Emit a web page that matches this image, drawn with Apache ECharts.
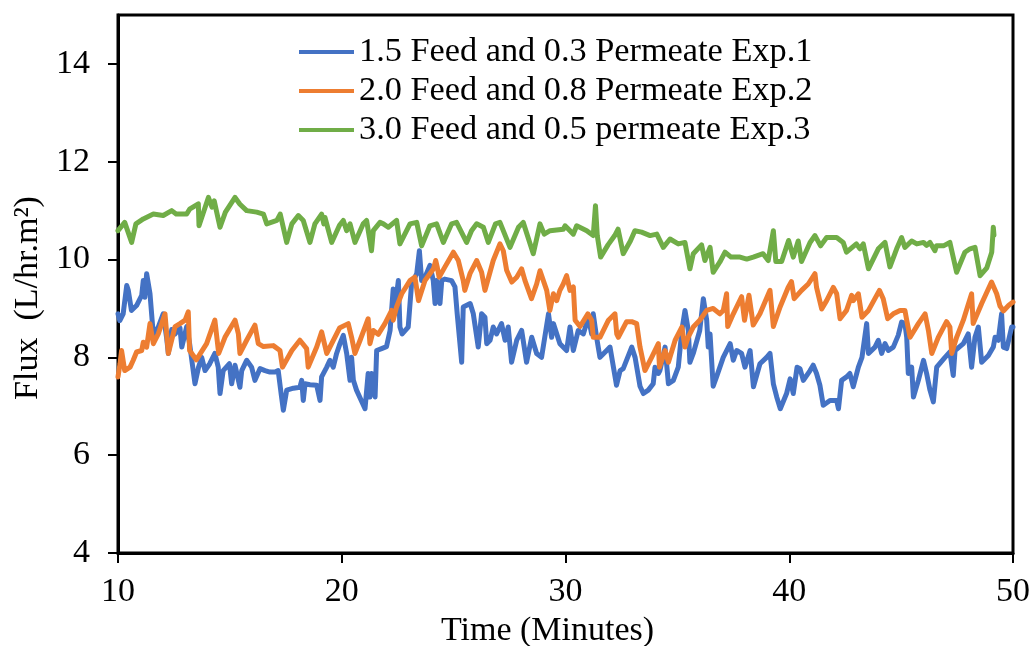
<!DOCTYPE html>
<html>
<head>
<meta charset="utf-8">
<script src="https://cdn.jsdelivr.net/npm/echarts@6/dist/echarts.min.js"></script>
<style>
  html, body { margin: 0; padding: 0; background: #fff; }
  #chart { width: 1031px; height: 646px; }
</style>
</head>
<body>
<div id="chart"></div>
<script>
// Permeate flux over time for three feed/permeate pressure settings.
// Each entry is [time in minutes, flux in L/hr.m²].
const seriesNames = [
  '1.5 Feed and 0.3 Permeate Exp.1',
  '2.0 Feed and 0.8 Permeate Exp.2',
  '3.0 Feed and 0.5 permeate Exp.3'
];
const seriesColors = ['#4472C4', '#ED7D31', '#70AD47'];

const xTicks = [10, 20, 30, 40, 50];
const yTicks = [4, 6, 8, 10, 12, 14];

const exp1 = [[10.0,8.89],[10.08,8.75],[10.23,8.89],[10.39,9.47],[10.46,9.37],[10.6,8.96],[10.83,9.06],[11.06,9.27],[11.13,9.57],[11.2,9.23],[11.28,9.71],[11.43,9.3],[11.58,8.45],[11.8,8.62],[12.02,8.89],[12.17,8.41],[12.25,8.08],[12.4,8.57],[12.55,8.48],[12.77,8.6],[12.85,8.21],[13.07,8.63],[13.2,8.28],[13.44,7.46],[13.6,7.8],[13.74,8.0],[13.89,7.73],[14.1,7.87],[14.33,8.08],[14.48,7.8],[14.56,7.26],[14.7,7.73],[14.98,7.87],[15.08,7.46],[15.23,7.84],[15.45,7.39],[15.53,7.73],[15.75,7.94],[15.97,7.8],[16.12,7.53],[16.35,7.77],[16.57,7.73],[16.79,7.7],[17.02,7.7],[17.16,7.73],[17.31,7.19],[17.39,6.92],[17.54,7.33],[17.84,7.37],[18.13,7.39],[18.21,7.53],[18.28,7.12],[18.36,7.46],[18.58,7.44],[18.88,7.43],[19.03,7.12],[19.1,7.6],[19.33,7.8],[19.47,7.94],[19.62,7.8],[19.77,8.08],[19.92,8.28],[20.07,8.45],[20.22,8.08],[20.37,7.53],[20.44,8.0],[20.52,7.53],[20.66,7.33],[21.04,6.95],[21.18,7.67],[21.26,7.19],[21.33,7.67],[21.49,7.19],[21.56,8.14],[21.78,8.18],[22.0,8.22],[22.16,8.55],[22.3,9.4],[22.38,9.03],[22.53,9.57],[22.6,8.62],[22.7,8.48],[22.97,8.62],[23.12,9.5],[23.35,9.71],[23.47,10.18],[23.57,9.57],[23.72,9.64],[23.94,9.88],[24.09,9.57],[24.17,9.1],[24.24,9.57],[24.39,9.1],[24.47,9.57],[24.6,9.6],[24.91,9.57],[25.06,9.44],[25.16,8.89],[25.36,7.9],[25.43,9.03],[25.74,9.1],[25.88,8.89],[26.1,8.21],[26.25,8.89],[26.4,8.82],[26.48,8.28],[26.63,8.35],[26.77,8.62],[26.92,8.48],[27.14,8.69],[27.3,8.35],[27.44,8.62],[27.59,7.9],[27.82,8.35],[28.04,8.55],[28.26,7.9],[28.49,8.41],[28.71,8.08],[28.93,8.0],[29.24,8.89],[29.38,8.41],[29.46,8.69],[29.75,8.28],[30.05,8.14],[30.2,8.62],[30.35,8.14],[30.57,8.55],[30.8,8.48],[31.02,8.82],[31.17,8.48],[31.24,8.89],[31.39,8.41],[31.54,8.0],[31.84,8.14],[31.99,8.21],[32.28,7.43],[32.44,7.73],[32.58,7.77],[32.96,8.21],[33.11,8.0],[33.33,7.41],[33.48,7.26],[33.7,7.33],[33.92,7.46],[34.0,7.8],[34.15,7.67],[34.22,7.73],[34.45,8.21],[34.6,7.46],[34.82,7.53],[35.04,7.8],[35.2,8.55],[35.34,8.96],[35.49,8.55],[35.56,7.9],[35.71,8.08],[36.0,8.55],[36.16,9.2],[36.31,8.76],[36.38,8.21],[36.46,8.48],[36.6,7.41],[36.75,7.6],[37.05,8.0],[37.36,8.28],[37.5,7.94],[37.65,8.14],[37.87,8.08],[38.02,7.8],[38.25,8.14],[38.4,7.4],[38.69,7.87],[38.99,8.0],[39.14,8.08],[39.29,7.46],[39.44,7.19],[39.6,6.95],[39.88,7.26],[40.04,7.56],[40.18,7.26],[40.35,7.8],[40.48,7.77],[40.63,7.53],[40.93,7.73],[41.07,7.84],[41.22,7.67],[41.37,7.43],[41.52,7.02],[41.82,7.12],[42.12,7.12],[42.2,6.95],[42.34,7.53],[42.56,7.6],[42.71,7.67],[42.86,7.4],[43.09,7.8],[43.25,8.0],[43.46,8.69],[43.54,8.08],[43.83,8.21],[43.98,8.35],[44.13,8.08],[44.28,8.28],[44.43,8.14],[44.65,8.21],[44.87,8.45],[45.02,8.72],[45.17,8.69],[45.25,8.41],[45.32,7.67],[45.47,7.8],[45.55,7.19],[45.77,7.53],[46.0,7.94],[46.14,7.67],[46.29,7.33],[46.44,7.09],[46.59,7.8],[46.96,8.0],[47.18,8.11],[47.33,7.63],[47.41,8.14],[47.78,8.28],[48.0,8.48],[48.15,7.8],[48.3,8.41],[48.45,8.62],[48.6,7.9],[48.9,8.04],[49.12,8.21],[49.2,8.41],[49.34,8.35],[49.49,8.89],[49.57,8.21],[49.72,8.18],[49.94,8.62],[50.0,8.62]];

const exp2 = [[10.0,7.6],[10.09,7.87],[10.16,8.14],[10.3,7.73],[10.54,7.8],[10.68,7.94],[10.83,8.11],[11.06,8.14],[11.13,8.31],[11.28,8.21],[11.43,8.69],[11.58,8.28],[11.8,8.48],[12.1,8.89],[12.25,8.08],[12.55,8.63],[12.77,8.69],[13.0,8.76],[13.14,8.93],[13.2,8.14],[13.5,7.95],[13.96,8.28],[14.33,8.76],[14.5,8.08],[14.78,8.41],[15.23,8.76],[15.38,8.48],[15.45,8.08],[15.75,8.35],[16.12,8.66],[16.27,8.28],[16.5,8.22],[16.94,8.24],[17.24,8.14],[17.35,7.8],[17.77,8.14],[18.13,8.35],[18.43,8.18],[18.5,7.8],[18.88,8.21],[19.1,8.52],[19.33,8.08],[19.47,8.21],[19.9,8.6],[20.29,8.69],[20.44,8.41],[20.59,8.08],[20.82,8.35],[21.18,8.79],[21.26,8.28],[21.41,8.55],[21.63,8.47],[21.93,8.69],[22.23,8.96],[22.3,8.76],[22.45,9.03],[22.68,9.3],[23.05,9.57],[23.27,9.64],[23.43,9.16],[23.72,9.57],[24.1,9.81],[24.2,9.98],[24.27,9.84],[24.35,9.64],[24.6,9.84],[24.99,10.15],[25.21,9.98],[25.43,9.57],[25.5,9.37],[25.73,9.71],[26.03,9.98],[26.25,9.74],[26.4,9.37],[26.77,9.98],[27.07,10.32],[27.22,10.18],[27.37,9.78],[27.6,9.54],[27.82,9.64],[28.04,9.81],[28.19,9.57],[28.48,9.2],[28.71,9.5],[28.86,9.77],[29.16,9.37],[29.3,8.96],[29.46,9.3],[29.61,9.16],[29.75,9.37],[29.9,9.5],[30.05,9.67],[30.2,9.37],[30.35,9.44],[30.43,8.76],[30.65,8.63],[31.0,8.89],[31.17,8.76],[31.24,8.41],[31.54,8.41],[31.92,8.76],[32.21,8.89],[32.29,8.48],[32.36,8.41],[32.73,8.73],[32.96,8.73],[33.18,8.69],[33.33,8.21],[33.55,7.73],[33.85,8.0],[34.15,8.28],[34.2,7.8],[34.45,8.14],[34.6,7.9],[34.9,8.35],[35.2,8.62],[35.34,8.21],[35.49,8.42],[35.71,8.62],[36.0,8.76],[36.31,8.96],[36.6,9.0],[36.9,8.89],[37.05,8.96],[37.2,9.3],[37.25,8.63],[37.5,8.89],[37.87,9.24],[38.0,8.76],[38.2,9.27],[38.32,8.89],[38.39,8.66],[38.69,8.89],[39.14,9.37],[39.29,8.63],[39.59,9.03],[39.95,9.43],[40.1,9.55],[40.22,9.2],[40.55,9.37],[40.85,9.5],[41.15,9.71],[41.22,9.43],[41.45,8.99],[41.67,9.16],[41.97,9.43],[42.12,9.3],[42.27,8.79],[42.56,8.96],[42.79,9.27],[42.86,9.16],[43.09,9.3],[43.25,8.82],[43.54,8.96],[44.03,9.37],[44.2,9.2],[44.4,8.79],[44.65,8.89],[44.95,8.96],[45.17,8.96],[45.25,8.76],[45.4,8.41],[45.77,8.69],[46.07,8.89],[46.22,8.55],[46.37,8.08],[46.66,8.41],[47.03,8.73],[47.18,8.62],[47.26,8.08],[47.48,8.41],[47.78,8.76],[48.15,9.3],[48.22,8.69],[48.6,9.1],[49.04,9.54],[49.27,9.3],[49.42,9.05],[49.57,8.95],[49.8,9.06],[50.0,9.13]];

const exp3 = [[10.0,10.59],[10.3,10.76],[10.61,10.35],[10.8,10.73],[11.13,10.83],[11.58,10.93],[12.02,10.9],[12.4,11.0],[12.6,10.93],[13.07,10.93],[13.2,11.03],[13.59,11.14],[13.62,10.69],[14.04,11.27],[14.2,11.07],[14.3,11.2],[14.56,10.66],[14.8,10.97],[15.23,11.27],[15.45,11.13],[15.75,11.0],[16.2,10.97],[16.5,10.93],[16.65,10.73],[17.1,10.8],[17.25,10.93],[17.54,10.35],[17.77,10.73],[18.06,10.9],[18.28,10.8],[18.58,10.35],[18.8,10.73],[19.1,10.93],[19.2,10.73],[19.25,10.86],[19.55,10.35],[19.9,10.7],[20.07,10.8],[20.22,10.59],[20.37,10.73],[20.59,10.35],[20.96,10.73],[21.11,10.8],[21.33,10.18],[21.41,10.59],[21.71,10.76],[21.86,10.73],[22.08,10.66],[22.45,10.8],[22.6,10.32],[23.05,10.73],[23.35,10.76],[23.57,10.28],[23.94,10.69],[24.24,10.73],[24.54,10.35],[24.91,10.73],[25.13,10.76],[25.58,10.35],[25.8,10.59],[26.03,10.73],[26.33,10.66],[26.55,10.35],[26.87,10.73],[27.07,10.76],[27.52,10.25],[27.9,10.66],[28.11,10.76],[28.56,10.12],[28.86,10.73],[29.05,10.52],[29.31,10.59],[29.9,10.62],[29.98,10.69],[30.35,10.52],[30.5,10.69],[30.95,10.59],[31.24,10.49],[31.34,11.1],[31.42,10.49],[31.57,10.05],[31.9,10.3],[32.2,10.49],[32.35,10.62],[32.58,10.12],[32.9,10.38],[33.1,10.59],[33.4,10.56],[33.78,10.49],[34.08,10.52],[34.37,10.25],[34.67,10.42],[35.04,10.32],[35.34,10.35],[35.56,9.81],[35.71,10.12],[36.08,10.3],[36.23,9.98],[36.46,10.25],[36.6,9.74],[36.9,9.95],[37.13,10.15],[37.4,10.05],[37.8,10.05],[38.1,10.01],[38.39,10.05],[38.83,10.12],[39.06,9.98],[39.29,10.59],[39.4,9.96],[39.66,9.96],[39.97,10.39],[40.18,10.05],[40.4,10.38],[40.55,9.96],[40.93,10.35],[41.15,10.49],[41.4,10.28],[41.67,10.45],[42.12,10.45],[42.41,10.35],[42.56,10.15],[43.0,10.32],[43.16,10.22],[43.31,10.32],[43.54,9.81],[43.98,10.22],[44.28,10.35],[44.5,9.85],[44.8,10.22],[45.02,10.45],[45.17,10.25],[45.47,10.38],[45.7,10.32],[46.0,10.35],[46.14,10.29],[46.29,10.35],[46.51,10.18],[46.58,10.28],[46.89,10.28],[47.18,10.35],[47.48,9.74],[47.85,10.15],[48.08,10.22],[48.3,10.25],[48.53,9.67],[48.83,9.83],[49.05,10.15],[49.12,10.66],[49.15,10.5]];

const FONT = '"Liberation Serif", "Times New Roman", serif';
const FS = 34;
const LINE_W = 5;

const chart = echarts.init(document.getElementById('chart'), null, { renderer: 'canvas' });

const axisCommon = {
  axisLine: { show: true, lineStyle: { color: '#000', width: 3 } },
  axisTick: { show: true, inside: false, length: 10, lineStyle: { color: '#000', width: 2 } },
  splitLine: { show: false },
  nameLocation: 'middle'
};

chart.setOption({
  animation: false,
  backgroundColor: '#fff',
  grid: {
    left: 118, right: 18, top: 15, bottom: 93,
    outerBoundsMode: 'none',
    containLabel: false,
    show: true, borderColor: '#000', borderWidth: 3
  },
  legend: {
    orient: 'vertical',
    left: 294,
    top: 30,
    icon: 'rect',
    itemWidth: 55,
    itemHeight: 4,
    itemGap: 5,
    data: seriesNames,
    textStyle: { fontFamily: FONT, fontSize: 34.3, color: '#000', lineHeight: 34 }
  },
  xAxis: Object.assign({}, axisCommon, {
    type: 'value',
    min: xTicks[0],
    max: xTicks[xTicks.length - 1],
    interval: 10,
    name: 'Time (Minutes)',
    nameGap: 60,
    nameTextStyle: { fontFamily: FONT, fontSize: FS, color: '#000', padding: [0, 36, 0, 0] },
    axisLabel: { fontFamily: FONT, fontSize: FS, color: '#000', margin: 22 }
  }),
  yAxis: Object.assign({}, axisCommon, {
    type: 'value',
    min: 4,
    max: 15,
    interval: 2,
    name: 'Flux  (L/hr.m²)',
    nameGap: 70,
    nameTextStyle: { fontFamily: FONT, fontSize: FS, color: '#000', padding: [0, 28, 0, 0] },
    axisTick: { show: true, inside: false, length: 10, customValues: yTicks, lineStyle: { color: '#000', width: 2 } },
    axisLabel: { fontFamily: FONT, fontSize: FS, color: '#000', margin: 28, customValues: yTicks }
  }),
  series: [exp1, exp2, exp3].map((d, i) => ({
    name: seriesNames[i],
    type: 'line',
    data: d,
    symbol: 'none',
    color: seriesColors[i],
    lineStyle: { width: LINE_W, color: seriesColors[i], join: 'round', cap: 'round' }
  }))
});
</script>
</body>
</html>
